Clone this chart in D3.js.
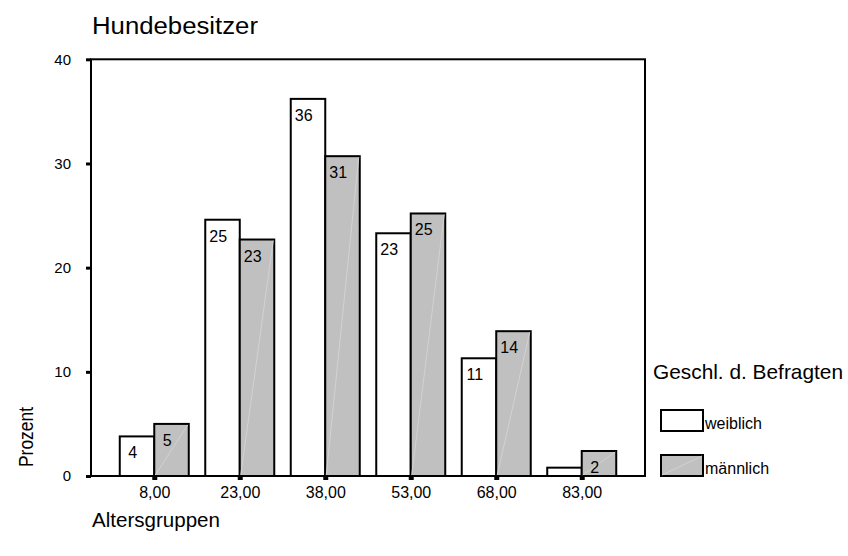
<!DOCTYPE html>
<html>
<head>
<meta charset="utf-8">
<script src="https://cdn.jsdelivr.net/npm/d3@7"></script>
<style>
  body { margin: 0; background: #fff; }
  svg text { font-family: "Liberation Sans", Arial, sans-serif; fill: #000; }
</style>
</head>
<body>
<div id="chart"></div>
<script>
// data
const categories = ["8,00", "23,00", "38,00", "53,00", "68,00", "83,00"];
const weiblich   = [3.8, 24.6, 36.2, 23.3, 11.3, 0.8];
const maennlich  = [5.0, 22.7, 30.7, 25.2, 13.9, 2.4];
const groups     = ["weiblich", "männlich"];
const yTicks     = [0, 10, 20, 30, 40];

const WIDTH = 848, HEIGHT = 556;
const plot = {left: 91, right: 645, top: 59.3, bottom: 476};

const svg = d3.select("#chart")
  .append("svg")
    .attr("width", WIDTH)
    .attr("height", HEIGHT);

// scales
const x = d3.scalePoint()
  .domain(categories)
  .range([plot.left, plot.right])
  .padding(0.74);

const inner = d3.scaleBand()
  .domain(groups)
  .range([-34.5, 34.5]);

const y = d3.scaleLinear()
  .domain([0, 40])
  .range([plot.bottom, plot.top]);

const color = d3.scaleOrdinal().domain(groups).range(["#ffffff", "#c0c0c0"]);

// frame (top line a bit lighter, like the original)
svg.append("rect")
  .attr("x", plot.left)
  .attr("y", plot.top)
  .attr("width", plot.right - plot.left)
  .attr("height", plot.bottom - plot.top)
  .attr("fill", "none")
  .attr("stroke", "#000")
  .attr("stroke-width", 2);

// y axis
const yAxis = svg.append("g")
  .attr("transform", `translate(${plot.left},0)`)
  .call(d3.axisLeft(y).tickValues(yTicks).tickSize(5).tickPadding(15));
yAxis.select(".domain").remove();
yAxis.selectAll(".tick line").attr("stroke-width", 3);
yAxis.selectAll(".tick text")
  .style("font-size", "15px")
  .style("font-family", "Liberation Sans, Arial, sans-serif");

// x axis
const xAxis = svg.append("g")
  .attr("transform", `translate(0,${plot.bottom})`)
  .call(d3.axisBottom(x).tickSize(4).tickPadding(7));
xAxis.select(".domain").remove();
xAxis.selectAll(".tick line").attr("stroke-width", 5);
xAxis.selectAll(".tick text")
  .style("font-size", "16px")
  .style("font-family", "Liberation Sans, Arial, sans-serif");

// bars
const rows = [];
categories.forEach((c, i) => {
  rows.push({cat: c, group: "weiblich", value: weiblich[i]});
  rows.push({cat: c, group: "männlich", value: maennlich[i]});
});

const bar = svg.selectAll("g.bar")
  .data(rows)
  .join("g")
  .attr("class", "bar");

bar.append("rect")
  .attr("x", d => x(d.cat) + inner(d.group))
  .attr("y", d => y(d.value))
  .attr("width", inner.bandwidth())
  .attr("height", d => y(0) - y(d.value))
  .attr("fill", d => color(d.group))
  .attr("stroke", "#000")
  .attr("stroke-width", 2);

// faint diagonal in the grey bars
bar.filter(d => d.group === "männlich")
  .append("line")
  .attr("x1", d => x(d.cat) + inner(d.group) + 1)
  .attr("y1", y(0) - 1)
  .attr("x2", d => x(d.cat) + inner(d.group) + inner.bandwidth() - 1)
  .attr("y2", d => y(d.value) + 1)
  .attr("stroke", "#d2d2d2")
  .attr("stroke-width", 1);

// value labels
bar.filter(d => y(0) - y(d.value) > 20)
  .append("text")
  .attr("x", d => x(d.cat) + inner(d.group) + 13)
  .attr("y", d => y(d.value) + 22)
  .attr("text-anchor", "middle")
  .style("font-size", "16px")
  .text(d => Math.round(d.value));

// titles
svg.append("text")
  .attr("x", 92)
  .attr("y", 34)
  .attr("textLength", 166)
  .attr("lengthAdjust", "spacingAndGlyphs")
  .style("font-size", "23px")
  .text("Hundebesitzer");

svg.append("text")
  .attr("x", 92)
  .attr("y", 527)
  .attr("textLength", 128)
  .attr("lengthAdjust", "spacingAndGlyphs")
  .style("font-size", "20px")
  .text("Altersgruppen");

svg.append("text")
  .attr("transform", "translate(33,467) rotate(-90)")
  .attr("textLength", 60)
  .attr("lengthAdjust", "spacingAndGlyphs")
  .style("font-size", "20px")
  .text("Prozent");

// legend
const legend = svg.append("g");
legend.append("text")
  .attr("x", 653)
  .attr("y", 379)
  .attr("textLength", 190)
  .attr("lengthAdjust", "spacingAndGlyphs")
  .style("font-size", "21px")
  .text("Geschl. d. Befragten");

const item = legend.selectAll("g.item")
  .data(groups)
  .join("g")
  .attr("class", "item")
  .attr("transform", (d, i) => `translate(661,${410 + i * 45})`);

item.append("rect")
  .attr("width", 42)
  .attr("height", 21)
  .attr("fill", d => color(d))
  .attr("stroke", "#000")
  .attr("stroke-width", 2);

item.filter(d => d === "männlich")
  .append("line")
  .attr("x1", 1).attr("y1", 20)
  .attr("x2", 41).attr("y2", 1)
  .attr("stroke", "#d2d2d2");

item.append("text")
  .attr("x", 44)
  .attr("y", 19)
  .style("font-size", "16px")
  .text(d => d);
</script>
</body>
</html>
